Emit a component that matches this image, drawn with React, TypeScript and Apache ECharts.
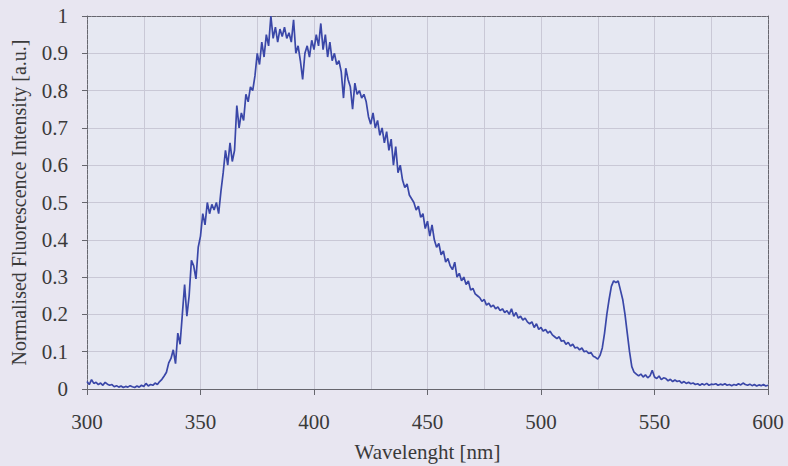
import React, { useEffect, useRef } from "react";
import * as echarts from "echarts";

// Wavelength grid (nm) — one sample per nm from 300 to 600
const wavelengthStart = 300;
const wavelengthStep = 1;

// Normalised fluorescence intensity
const intensity: number[] = [
  0.020, 0.012, 0.025, 0.015, 0.018, 0.012, 0.016, 0.010, 0.018, 0.013, // 300-309
  0.010, 0.012, 0.006, 0.009, 0.005, 0.008, 0.004, 0.007, 0.005, 0.009, // 310-319
  0.006, 0.004, 0.008, 0.005, 0.010, 0.007, 0.015, 0.008, 0.012, 0.010, // 320-329
  0.016, 0.012, 0.020, 0.026, 0.035, 0.045, 0.070, 0.082, 0.105, 0.068, // 330-339
  0.150, 0.120, 0.200, 0.280, 0.195, 0.250, 0.345, 0.330, 0.295, 0.380, // 340-349
  0.410, 0.470, 0.440, 0.500, 0.470, 0.495, 0.480, 0.500, 0.470, 0.530, // 350-359
  0.580, 0.640, 0.600, 0.660, 0.610, 0.640, 0.760, 0.700, 0.740, 0.720, // 360-369
  0.790, 0.770, 0.810, 0.800, 0.840, 0.900, 0.870, 0.930, 0.890, 0.950, // 370-379
  0.920, 1.000, 0.940, 0.970, 0.930, 0.965, 0.945, 0.970, 0.940, 0.955, // 380-389
  0.930, 0.990, 0.900, 0.920, 0.880, 0.830, 0.900, 0.920, 0.890, 0.935, // 390-399
  0.910, 0.950, 0.920, 0.980, 0.910, 0.950, 0.890, 0.930, 0.880, 0.900, // 400-409
  0.870, 0.880, 0.850, 0.780, 0.860, 0.830, 0.810, 0.750, 0.820, 0.790, // 410-419
  0.800, 0.780, 0.790, 0.770, 0.730, 0.710, 0.740, 0.700, 0.720, 0.680, // 420-429
  0.700, 0.660, 0.690, 0.640, 0.670, 0.600, 0.650, 0.580, 0.600, 0.560, // 430-439
  0.540, 0.550, 0.520, 0.510, 0.500, 0.480, 0.490, 0.460, 0.470, 0.430, // 440-449
  0.450, 0.410, 0.440, 0.400, 0.380, 0.390, 0.360, 0.370, 0.340, 0.350, // 450-459
  0.330, 0.320, 0.340, 0.300, 0.310, 0.290, 0.300, 0.280, 0.290, 0.265, // 460-469
  0.270, 0.255, 0.250, 0.245, 0.235, 0.240, 0.225, 0.230, 0.220, 0.225, // 470-479
  0.215, 0.220, 0.210, 0.215, 0.205, 0.210, 0.200, 0.215, 0.195, 0.205, // 480-489
  0.190, 0.195, 0.185, 0.190, 0.180, 0.175, 0.180, 0.165, 0.175, 0.160, // 490-499
  0.165, 0.155, 0.160, 0.150, 0.155, 0.145, 0.140, 0.135, 0.140, 0.128, // 500-509
  0.130, 0.120, 0.125, 0.115, 0.120, 0.110, 0.112, 0.105, 0.110, 0.100, // 510-519
  0.102, 0.095, 0.098, 0.088, 0.085, 0.080, 0.090, 0.110, 0.150, 0.200, // 520-529
  0.240, 0.275, 0.290, 0.285, 0.290, 0.265, 0.240, 0.200, 0.150, 0.100, // 530-539
  0.060, 0.045, 0.040, 0.035, 0.040, 0.032, 0.038, 0.030, 0.035, 0.050, // 540-549
  0.032, 0.028, 0.035, 0.025, 0.030, 0.028, 0.022, 0.026, 0.020, 0.024, // 550-559
  0.020, 0.022, 0.016, 0.020, 0.015, 0.018, 0.014, 0.016, 0.012, 0.014, // 560-569
  0.010, 0.014, 0.011, 0.015, 0.010, 0.013, 0.012, 0.014, 0.010, 0.013, // 570-579
  0.011, 0.014, 0.010, 0.012, 0.009, 0.012, 0.010, 0.014, 0.011, 0.016, // 580-589
  0.012, 0.010, 0.013, 0.009, 0.012, 0.008, 0.011, 0.009, 0.012, 0.008, // 590-599
  0.010, // 600
];

const xTitle = "Wavelenght [nm]";
const yTitle = "Normalised Fluorescence Intensity [a.u.]";

export default function App() {
  const ref = useRef<HTMLDivElement>(null);

  useEffect(() => {
    document.body.style.margin = "0";
    if (!ref.current) return;
    const chart = echarts.init(ref.current, undefined, { renderer: "svg" });
    const data = intensity.map((v, i) => [wavelengthStart + i * wavelengthStep, v]);
    const font = "'Liberation Serif', 'Times New Roman', serif";
    const gridColor = "#c9c8d6";
    const axisColor = "#66666e";
    const textColor = "#3a3a3a";
    chart.setOption({
      animation: false,
      backgroundColor: "#e8e6f1",
      textStyle: { fontFamily: font },
      grid: {
        left: 87,
        right: 20,
        top: 16,
        bottom: 77,
        show: true,
        outerBoundsMode: "none",
        containLabel: false,
        backgroundColor: "#e6e8f2",
        borderColor: "transparent",
      },
      xAxis: [
        {
          type: "value",
          min: 300,
          max: 600,
          interval: 50,
          name: xTitle,
          nameLocation: "middle",
          nameGap: 52,
          nameTextStyle: { fontFamily: font, fontSize: 21, color: textColor },
          axisLine: { show: true, onZero: false, lineStyle: { color: axisColor, width: 1 } },
          axisTick: { show: true, inside: false, length: 6, lineStyle: { color: axisColor } },
          axisLabel: { fontFamily: font, fontSize: 21, color: textColor, margin: 22 },
          splitLine: { show: true, lineStyle: { color: gridColor, width: 1 } },
          minorTick: { show: false, splitNumber: 2 },
          minorSplitLine: { show: true, lineStyle: { color: gridColor, width: 1 } },
        },
        {
          type: "value",
          position: "top",
          min: 300,
          max: 600,
          interval: 50,
          axisLine: { show: true, onZero: false, lineStyle: { color: axisColor, width: 1, type: [4, 1] } },
          axisTick: { show: false },
          axisLabel: { show: false },
          splitLine: { show: false },
        },
      ],
      yAxis: [
        {
          type: "value",
          min: 0,
          max: 1,
          interval: 0.1,
          name: yTitle,
          nameLocation: "middle",
          nameGap: 58,
          nameTextStyle: { fontFamily: font, fontSize: 20, color: textColor },
          axisLine: { show: true, onZero: false, lineStyle: { color: axisColor, width: 1, type: [4, 1] } },
          axisTick: { show: true, length: 5, lineStyle: { color: axisColor } },
          axisLabel: { fontFamily: font, fontSize: 21, color: textColor, margin: 19 },
          splitLine: { show: true, lineStyle: { color: gridColor, width: 1 } },
        },
        {
          type: "value",
          position: "right",
          min: 0,
          max: 1,
          interval: 0.1,
          axisLine: { show: true, onZero: false, lineStyle: { color: axisColor, width: 1, type: [4, 1] } },
          axisTick: { show: false },
          axisLabel: { show: false },
          splitLine: { show: false },
        },
      ],
      series: [
        {
          type: "line",
          data,
          showSymbol: false,
          symbol: "none",
          lineStyle: { color: "#3a47a8", width: 1.7 },
          z: 5,
        },
      ],
    });
    return () => chart.dispose();
  }, []);

  return (
    <div
      ref={ref}
      style={{ position: "absolute", left: 0, top: 0, width: 788, height: 466, background: "#e8e6f1" }}
    />
  );
}
